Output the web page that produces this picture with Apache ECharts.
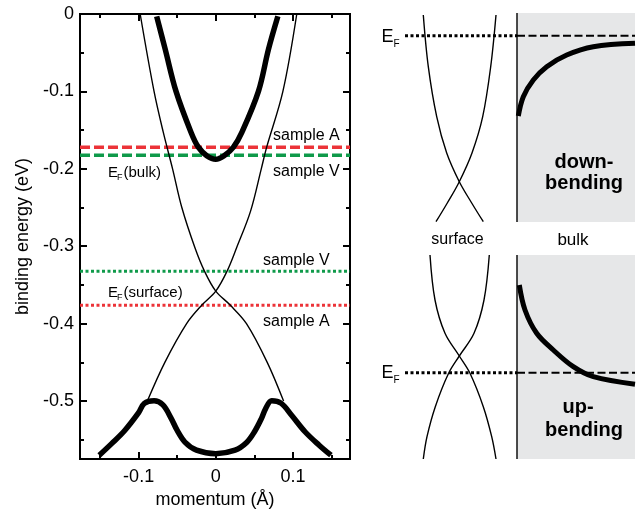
<!DOCTYPE html>
<html>
<head>
<meta charset="utf-8">
<script src="https://cdn.jsdelivr.net/npm/echarts@6/dist/echarts.min.js"></script>
<style>
    html, body {margin: 0; padding: 0; background: #fff;}
    #chart {width: 641px; height: 514px;}
</style>
</head>
<body>
<div id="chart"></div>
<script>
// ---- left panel: band dispersion, momentum (1/A) vs binding energy (eV)
const kMin = -0.176, kMax = 0.174;
const eMin = -0.575, eMax = 0;
const majorK = [-0.1, 0, 0.1];
const minorK = [-0.15, -0.05, 0.05, 0.15];
const majorE = [0, -0.1, -0.2, -0.3, -0.4, -0.5];
const minorE = [-0.05, -0.15, -0.25, -0.35, -0.45, -0.55];

// surface state (thin lines, crossing at the Dirac point)
const surfaceBranchA = [[-0.098, 0], [-0.080, -0.1], [-0.068, -0.153], [-0.056, -0.2], [-0.044, -0.25], [-0.027, -0.302],
    [-0.0145, -0.3325], [0, -0.358], [0.0186, -0.376], [0.0398, -0.4], [0.0667, -0.45], [0.0879, -0.5]];
const surfaceBranchB = [[0.105, 0], [0.087, -0.1], [0.066, -0.172], [0.059, -0.2], [0.045, -0.255], [0.027, -0.302],
    [0.0145, -0.3325], [0, -0.358], [-0.018, -0.376], [-0.0378, -0.4], [-0.066, -0.45], [-0.0887, -0.5]];
// bulk conduction band (thick)
const bulkConduction = [[-0.0766, -0.003], [-0.0655, -0.0457], [-0.0515, -0.1], [-0.032, -0.153], [-0.0226, -0.172],
    [-0.0117, -0.183], [0, -0.1877], [0.0108, -0.183], [0.0229, -0.172], [0.0338, -0.153], [0.0553, -0.1],
    [0.0683, -0.0457], [0.0805, -0.003]];
// bulk valence band (thick, M shape)
const bulkValence = [[-0.151, -0.570], [-0.135, -0.555], [-0.118, -0.538], [-0.1, -0.515], [-0.0926, -0.503],
    [-0.08, -0.4995], [-0.0685, -0.505], [-0.058, -0.522], [-0.05, -0.538], [-0.04, -0.553], [-0.025, -0.5635],
    [0, -0.568], [0.025, -0.5635], [0.04, -0.5535], [0.05, -0.54], [0.059, -0.523], [0.0645, -0.51],
    [0.0725, -0.4995], [0.085, -0.503], [0.098, -0.518], [0.116, -0.54], [0.134, -0.557], [0.1493, -0.570]];
// Fermi levels
const efBulkA = -0.172, efBulkV = -0.1826;
const efSurfV = -0.3324, efSurfA = -0.3763;

// ---- right panels: schematic, arbitrary units (position, energy measured downwards)
const topSurfL = [[23.3, 2], [28.3, 53.7], [36.7, 103.7], [46.7, 140], [59.3, 168.7], [71.7, 190], [83.3, 208.7]];
const topSurfR = [[96, 2], [90.7, 53.7], [82.7, 103.7], [72, 140], [59.3, 168.7], [47.3, 190], [36, 208.7]];
const topBand = [[118.3, 103], [123.3, 83.7], [133.3, 67], [146.7, 53.7], [166.7, 42], [193.3, 33.7], [235, 30.3]];
const topEF = 22.7;
const botSurfL = [[30, 0], [35, 45], [45, 78.3], [59.3, 101], [70, 118.3], [83.3, 151.7], [91.7, 181.7], [96, 204]];
const botSurfR = [[89.3, 0], [84, 45], [74, 78.3], [59.3, 101], [48.6, 118.3], [35.3, 151.7], [27, 181.7], [23.3, 204]];
const botBand = [[119.3, 30], [125, 55], [136.7, 78.3], [153.3, 95], [173.3, 111.7], [193.3, 121.7], [235, 129.3]];
const botEF = 117.7;
const interfaceX = 117, efStartX = 5, panelW = 235, topH = 209, botH = 204;

const FONT = '"Liberation Sans", Arial, Helvetica, sans-serif';
const RED = '#ec3338', GREEN = '#0f9a4a';

const chart = echarts.init(document.getElementById('chart'));

function kAxis(pos, ticks, len, labels) {
    return {
        type: 'value', gridIndex: 0, position: pos, min: kMin, max: kMax,
        axisLine: {show: true, onZero: false, lineStyle: {color: '#000', width: 2}},
        axisTick: {show: true, inside: true, length: len, customValues: ticks, lineStyle: {color: '#000', width: 2}},
        axisLabel: labels ? {show: true, customValues: ticks, margin: 9, fontSize: 18, color: '#000', fontFamily: FONT} : {show: false},
        splitLine: {show: false}
    };
}
function eAxis(pos, ticks, len, labels) {
    return {
        type: 'value', gridIndex: 0, position: pos, min: eMin, max: eMax,
        axisLine: {show: true, onZero: false, lineStyle: {color: '#000', width: 2}},
        axisTick: {show: true, inside: true, length: len, customValues: ticks, lineStyle: {color: '#000', width: 2}},
        axisLabel: labels ? {show: true, customValues: ticks, margin: 6, fontSize: 18, color: '#000', fontFamily: FONT} : {show: false},
        splitLine: {show: false}
    };
}
function hiddenAxis(grid, max, inverse) {
    return {type: 'value', gridIndex: grid, min: 0, max: max, inverse: !!inverse, show: false};
}

const xMain = kAxis('bottom', majorK, 7, true);
xMain.name = 'momentum (Å)';
xMain.nameLocation = 'middle';
xMain.nameGap = 29;
xMain.nameTextStyle = {fontSize: 18, color: '#000', fontFamily: FONT};
const yMain = eAxis('left', majorE, 7, true);
yMain.name = 'binding energy (eV)';
yMain.nameLocation = 'middle';
yMain.nameGap = 48;
yMain.nameTextStyle = {fontSize: 18, color: '#000', fontFamily: FONT};

function line(data, xi, yi, width, color, type, smooth) {
    return {
        type: 'line', xAxisIndex: xi, yAxisIndex: yi, data: data, symbol: 'none',
        smooth: smooth === undefined ? 0.35 : smooth, silent: true,
        lineStyle: {color: color, width: width, type: type || 'solid'}
    };
}
function hline(y, x0, x1, xi, yi, width, color, dash) {
    return line([[x0, y], [x1, y]], xi, yi, width, color, dash, false);
}

function txt(x, y, text, size, align, weight) {
    return {
        type: 'text', x: x, y: y, z: 100, silent: true,
        style: {text: text, fill: '#000', font: (weight || 'normal') + ' ' + size + 'px ' + FONT,
            textAlign: align || 'left', textVerticalAlign: 'middle'}
    };
}

const option = {
    animation: false,
    backgroundColor: '#fff',
    grid: [
        {left: 80, top: 14, width: 270, height: 450},
        {left: 400, top: 13, width: panelW, height: topH},
        {left: 400, top: 255, width: panelW, height: botH}
    ],
    xAxis: [
        xMain,
        kAxis('bottom', minorK, 4, false),
        kAxis('top', majorK, 7, false),
        kAxis('top', minorK, 4, false),
        hiddenAxis(1, panelW),
        hiddenAxis(2, panelW)
    ],
    yAxis: [
        yMain,
        eAxis('left', minorE, 4, false),
        eAxis('right', majorE, 7, false),
        eAxis('right', minorE, 4, false),
        hiddenAxis(1, topH, true),
        hiddenAxis(2, botH, true)
    ],
    series: [
        // left panel
        hline(efBulkA, kMin, kMax, 0, 0, 3.5, RED, [10, 4]),
        hline(efBulkV, kMin, kMax, 0, 0, 3.5, GREEN, [10, 4]),
        hline(efSurfV, kMin, kMax, 0, 0, 3, GREEN, [3, 2.5]),
        hline(efSurfA, kMin, kMax, 0, 0, 3, RED, [3, 2.5]),
        line(surfaceBranchA, 0, 0, 1.4, '#000'),
        line(surfaceBranchB, 0, 0, 1.4, '#000'),
        line(bulkConduction, 0, 0, 5.5, '#000'),
        line(bulkValence, 0, 0, 5.5, '#000'),
        // top right: down-bending
        {
            type: 'line', xAxisIndex: 4, yAxisIndex: 4, data: [], z: 0,
            markArea: {silent: true, itemStyle: {color: '#e6e7e8'},
                data: [[{coord: [interfaceX, 0]}, {coord: [panelW, topH]}]]}
        },
        line([[interfaceX, 0], [interfaceX, topH]], 4, 4, 1.4, '#000', 'solid', false),
        line(topSurfL, 4, 4, 1.4, '#000'),
        line(topSurfR, 4, 4, 1.4, '#000'),
        hline(topEF, efStartX, interfaceX, 4, 4, 3, '#000', [3, 2.5]),
        hline(topEF, interfaceX, panelW, 4, 4, 2, '#000', [8, 3.5]),
        line(topBand, 4, 4, 5, '#000'),
        // bottom right: up-bending
        {
            type: 'line', xAxisIndex: 5, yAxisIndex: 5, data: [], z: 0,
            markArea: {silent: true, itemStyle: {color: '#e6e7e8'},
                data: [[{coord: [interfaceX, 0]}, {coord: [panelW, botH]}]]}
        },
        line([[interfaceX, 0], [interfaceX, botH]], 5, 5, 1.4, '#000', 'solid', false),
        line(botSurfL, 5, 5, 1.4, '#000'),
        line(botSurfR, 5, 5, 1.4, '#000'),
        hline(botEF, efStartX, interfaceX, 5, 5, 3, '#000', [3, 2.5]),
        hline(botEF, interfaceX, panelW, 5, 5, 2, '#000', [8, 3.5]),
        line(botBand, 5, 5, 5, '#000')
    ],
    graphic: [
        txt(273, 136, 'sample A', 16),
        txt(273, 172, 'sample V', 16),
        txt(108, 173, 'E', 15), txt(117, 177.5, 'F', 9), txt(123.5, 173, '(bulk)', 15),
        txt(263, 261, 'sample V', 16),
        txt(108, 293, 'E', 15), txt(117, 297.5, 'F', 9), txt(123.5, 293, '(surface)', 15),
        txt(263, 322, 'sample A', 16),
        // right panels
        txt(381.5, 37, 'E', 18), txt(393.5, 44, 'F', 10),
        txt(381.5, 373, 'E', 18), txt(393.5, 380, 'F', 10),
        txt(457.5, 240, 'surface', 16, 'center'),
        txt(573, 240, 'bulk', 17, 'center'),
        txt(584, 162, 'down-', 20, 'center', 'bold'),
        txt(584, 183, 'bending', 20, 'center', 'bold'),
        txt(578, 407, 'up-', 20, 'center', 'bold'),
        txt(584, 430, 'bending', 20, 'center', 'bold')
    ]
};
chart.setOption(option);
</script>
</body>
</html>
